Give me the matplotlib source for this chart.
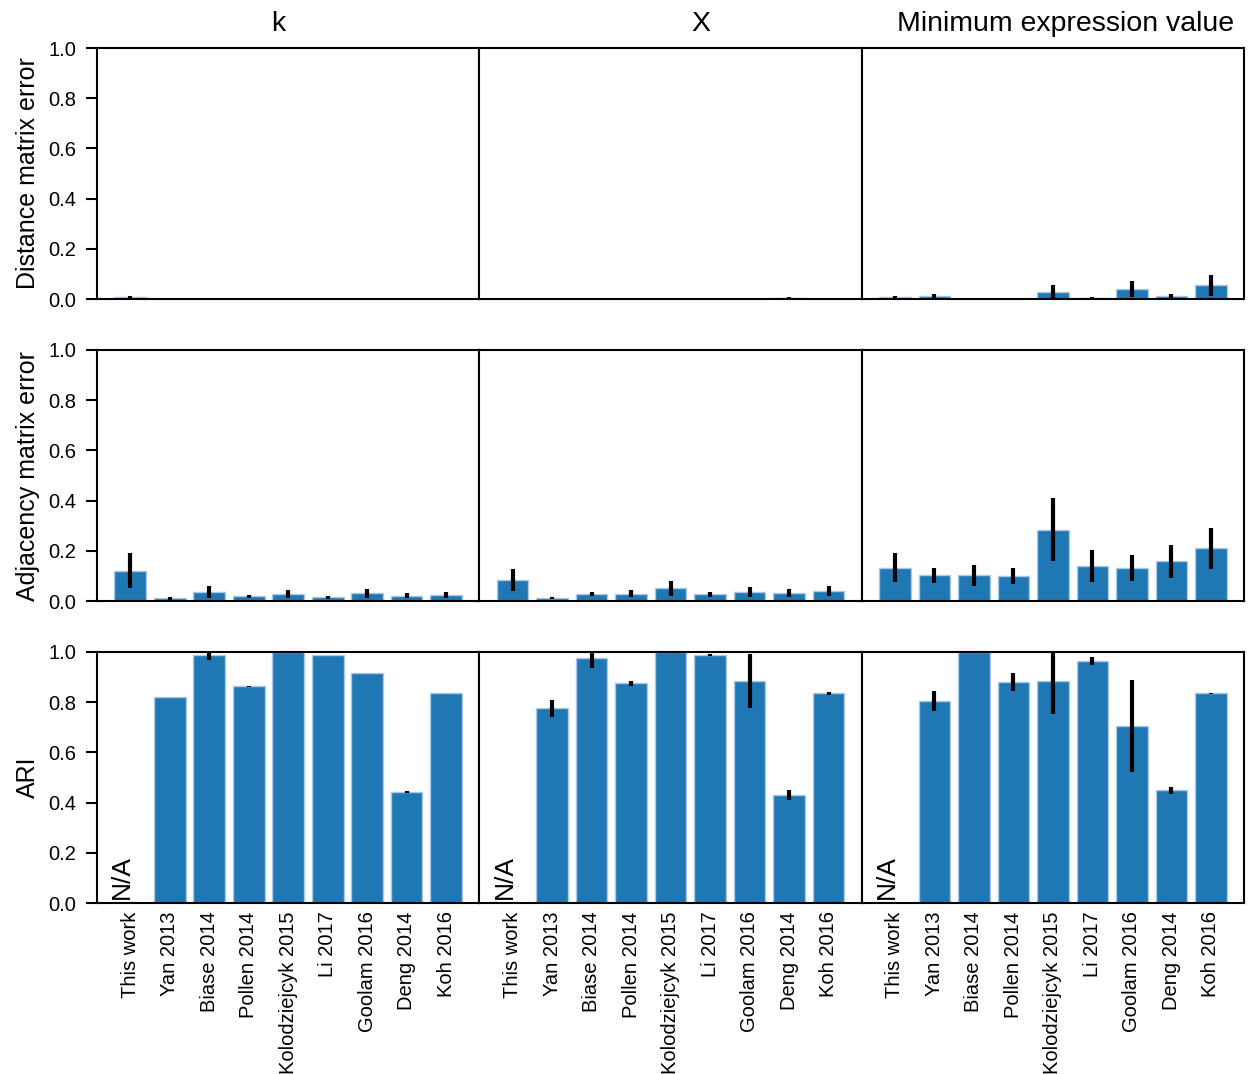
import numpy as np
import matplotlib
matplotlib.use("Agg")
import matplotlib.pyplot as plt

plt.rcParams['font.family'] = ['Liberation Sans', 'DejaVu Sans']

datasets = ["This work", "Yan 2013", "Biase 2014", "Pollen 2014", "Kolodziejcyk 2015",
            "Li 2017", "Goolam 2016", "Deng 2014", "Koh 2016"]
col_titles = ["k", "X", "Minimum expression value"]
row_labels = ["Distance matrix error", "Adjacency matrix error", "ARI"]

# Distance matrix error (mean, err) per column
dist_k = [0.008, 0.0, 0.001, 0.0, 0.0, 0.0, 0.0, 0.0, 0.0]
dist_k_err = [0.005, 0.0, 0.0, 0.0, 0.0, 0.0, 0.0, 0.0, 0.0]
dist_x = [0.001, 0.0, 0.0, 0.0, 0.0, 0.0, 0.0, 0.004, 0.0]
dist_x_err = [0.0, 0.0, 0.0, 0.0, 0.0, 0.0, 0.0, 0.004, 0.0]
dist_m = [0.007, 0.012, 0.002, 0.001, 0.028, 0.004, 0.039, 0.012, 0.055]
dist_m_err = [0.005, 0.010, 0.003, 0.003, 0.029, 0.004, 0.032, 0.010, 0.042]

# Adjacency matrix error
adj_k = [0.120, 0.011, 0.037, 0.019, 0.028, 0.015, 0.031, 0.021, 0.025]
adj_k_err = [0.070, 0.005, 0.023, 0.007, 0.015, 0.007, 0.017, 0.010, 0.012]
adj_x = [0.084, 0.013, 0.029, 0.029, 0.051, 0.027, 0.036, 0.033, 0.040]
adj_x_err = [0.045, 0.004, 0.007, 0.014, 0.029, 0.010, 0.018, 0.015, 0.020]
adj_m = [0.133, 0.102, 0.102, 0.100, 0.284, 0.139, 0.130, 0.159, 0.210]
adj_m_err = [0.058, 0.031, 0.041, 0.033, 0.125, 0.065, 0.052, 0.066, 0.081]

# ARI ("This work" not applicable)
ari_k = [np.nan, 0.821, 0.988, 0.863, 1.0, 0.988, 0.917, 0.443, 0.838]
ari_k_err = [0.0, 0.0, 0.02, 0.003, 0.0, 0.0, 0.0, 0.003, 0.0]
ari_x = [np.nan, 0.775, 0.975, 0.876, 0.999, 0.988, 0.884, 0.431, 0.835]
ari_x_err = [0.0, 0.034, 0.04, 0.01, 0.002, 0.003, 0.106, 0.021, 0.005]
ari_m = [np.nan, 0.806, 1.0, 0.880, 0.883, 0.965, 0.706, 0.449, 0.835]
ari_m_err = [0.0, 0.04, 0.0, 0.035, 0.13, 0.017, 0.183, 0.014, 0.002]

values = [[dist_k, dist_x, dist_m], [adj_k, adj_x, adj_m], [ari_k, ari_x, ari_m]]
errors = [[dist_k_err, dist_x_err, dist_m_err], [adj_k_err, adj_x_err, adj_m_err],
          [ari_k_err, ari_x_err, ari_m_err]]

fig, axes = plt.subplots(3, 3, figsize=(12.49, 10.74), dpi=100, sharex=True, sharey=True)
fig.subplots_adjust(left=0.0777, right=0.996, top=0.9553, bottom=0.1592, hspace=0.203, wspace=0.0)

title_x = [0.474, 0.579, 0.533]

x = np.arange(len(datasets))
for r in range(3):
    for c in range(3):
        ax = axes[r, c]
        v = np.array(values[r][c], dtype=float)
        e = np.array(errors[r][c], dtype=float)
        ax.bar(x, np.nan_to_num(v), width=0.8, color='#1f77b4',
               edgecolor='#a9c9e6', linewidth=1.0)
        mask = ~np.isnan(v)
        ax.errorbar(x[mask], v[mask], yerr=e[mask], fmt='none', ecolor='black',
                    elinewidth=3, capsize=0)
        if r == 2:
            ax.text(-0.2, 0.015, "N/A", rotation=90, ha='center', va='bottom', fontsize=19)
        ax.set_ylim(0, 1.0)
        ax.set_yticks([0.0, 0.2, 0.4, 0.6, 0.8, 1.0])
        for sp in ax.spines.values():
            sp.set_linewidth(1.5)
        ax.tick_params(axis='y', labelsize=14.5, width=1.5, length=8, pad=7)
        ax.tick_params(axis='x', labelsize=14.5, length=0, pad=6)
        if c != 0:
            ax.tick_params(axis='y', length=0)
        if r == 0:
            ax.set_title(col_titles[c], fontsize=20.5, pad=12, x=title_x[c])
        if c == 0:
            ax.set_ylabel(row_labels[r], fontsize=18, labelpad=6)
        if r == 2:
            ax.set_xticks(x)
            ax.set_xticklabels(datasets, rotation=90)

fig.align_ylabels(axes[:, 0])
fig.savefig("out.png", dpi=100)
